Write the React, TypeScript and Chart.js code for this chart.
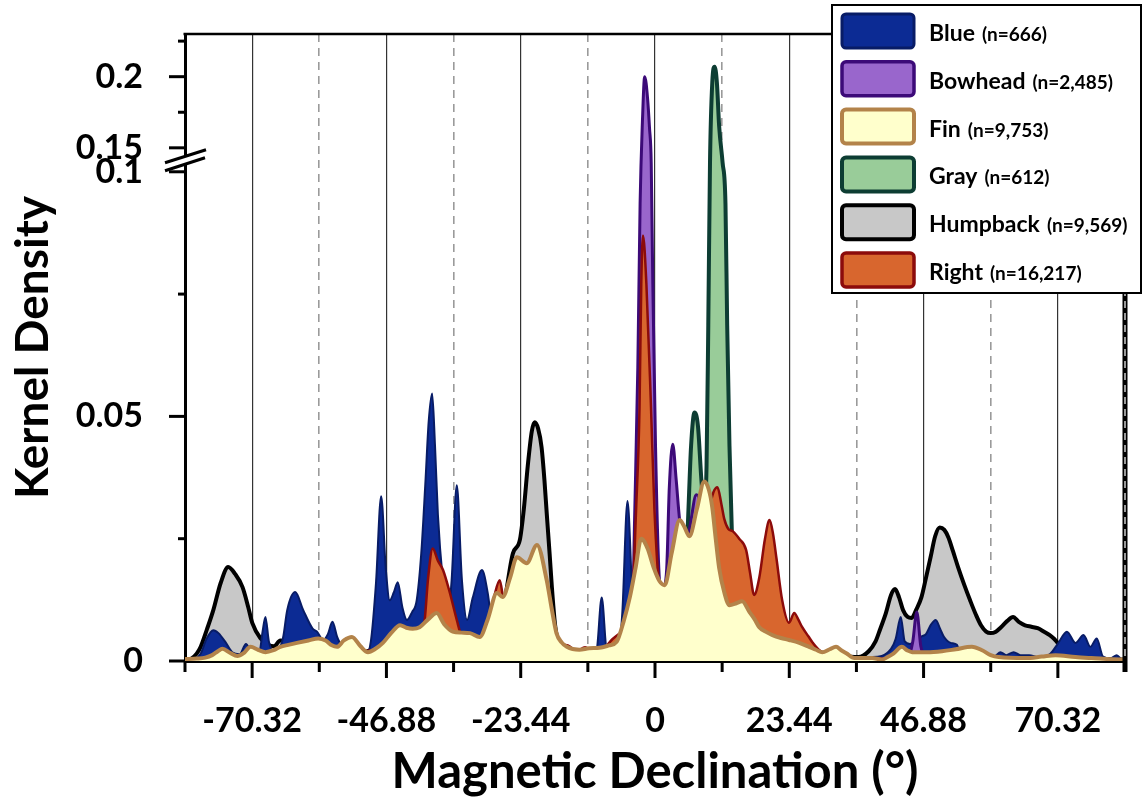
import React, { useEffect, useRef } from 'react';
import { Chart, registerables, LinearScale } from 'chart.js';

Chart.register(...registerables);

// ---------------- data ----------------
const SERIES_NAMES = ['Blue', 'Bowhead', 'Fin', 'Gray', 'Humpback', 'Right'];
const SERIES_COUNTS = ['n=666', 'n=2,485', 'n=9,753', 'n=612', 'n=9,569', 'n=16,217'];

const X_MIN = -82.04;
const X_MAX = 82.04;
const X_TICKS = [-82.04, -70.32, -58.6, -46.88, -35.16, -23.44, -11.72, 0, 11.72, 23.44, 35.16, 46.88, 58.6, 70.32, 82.04];
const X_TICK_LABELS = ['', '-70.32', '', '-46.88', '', '-23.44', '', '0', '', '23.44', '', '46.88', '', '70.32', ''];

const Y_MAX = 0.23;
const Y_BREAK_LOW = 0.1;
const Y_BREAK_HIGH = 0.15;
const Y_TICKS = [0, 0.025, 0.05, 0.075, 0.1, 0.15, 0.175, 0.2, 0.225];
const Y_TICK_LABELS = ['0', '', '0.05', '', '0.1', '0.15', '', '0.2', ''];

const BLUE_DENSITY: [number, number][] = [
  [-82.04, 0], [-80.5, 0.0003], [-79.3, 0.0015], [-78.3, 0.0045], [-77.1, 0.0063], [-76.2, 0.0057], [-75.0, 0.0039],
  [-73.8, 0.0018], [-72.5, 0.0014], [-71.4, 0.0035], [-70.3, 0.0018], [-69.0, 0.0022], [-68.5, 0.006], [-68.0, 0.009],
  [-67.4, 0.004], [-66.6, 0.002], [-65.6, 0.0025], [-64.9, 0.0049], [-64.2, 0.0104], [-62.8, 0.0141], [-61.4, 0.0104],
  [-59.8, 0.0067], [-59.0, 0.006], [-57.9, 0.0043], [-57.1, 0.0055], [-56.3, 0.008], [-55.5, 0.005], [-55.0, 0.0037],
  [-54.0, 0.002], [-52.0, 0.0013], [-50.5, 0.0012], [-49.6, 0.004], [-48.7, 0.016], [-47.8, 0.0337], [-47.0, 0.019],
  [-46.3, 0.0124], [-45.6, 0.014], [-44.9, 0.0161], [-44.1, 0.011], [-43.3, 0.0084], [-42.4, 0.01], [-41.6, 0.0124],
  [-40.8, 0.022], [-40.1, 0.036], [-39.5, 0.049], [-38.9, 0.0547], [-38.4, 0.044], [-37.9, 0.03], [-37.0, 0.016],
  [-36.2, 0.009], [-35.5, 0.0165], [-34.6, 0.0359], [-33.7, 0.0165], [-32.8, 0.0084], [-31.8, 0.013], [-30.2, 0.0186],
  [-29.2, 0.0139], [-28.3, 0.006], [-27.0, 0.002], [-22.0, 0.001], [-15.0, 0.001], [-11.0, 0.001], [-10.2, 0.002],
  [-9.3, 0.013], [-8.4, 0.002], [-7.0, 0.0015], [-6.3, 0.0025], [-5.7, 0.01], [-4.8, 0.0327], [-3.9, 0.012],
  [-3.2, 0.004], [-2.0, 0.002], [5.0, 0.001], [20.0, 0.001], [38.0, 0.0008], [41.2, 0.0025], [42.0, 0.0045],
  [42.9, 0.009], [43.6, 0.004], [44.5, 0.0035], [45.5, 0.004], [46.5, 0.005], [47.3, 0.0055], [48.2, 0.0075],
  [49.0, 0.0084], [49.8, 0.0065], [50.4, 0.005], [51.6, 0.0037], [52.7, 0.0033], [53.4, 0.001], [56.0, 0.0008],
  [59.3, 0.001], [60.3, 0.0018], [61.3, 0.0012], [62.6, 0.0018], [63.8, 0.0012], [65.3, 0.0012], [67.0, 0.0008],
  [69.0, 0.0015], [70.3, 0.0035], [71.9, 0.006], [73.4, 0.0037], [74.8, 0.0053], [76.0, 0.0029], [77.1, 0.0046],
  [78.2, 0.0009], [79.5, 0.0005], [80.6, 0.0012], [81.4, 0.0003], [82.04, 0],
];

const BOWHEAD_DENSITY: [number, number][] = [
  [-82.04, 0], [-20.0, 0], [-6.0, 0.0003], [-4.5, 0.002], [-3.9, 0.01], [-3.6, 0.027], [-3.0, 0.06], [-2.6, 0.0935],
  [-2.2, 0.168], [-1.8, 0.2], [-1.3, 0.185], [-0.96, 0.164], [-0.66, 0.119], [-0.38, 0.077], [0.09, 0.044],
  [0.66, 0.019], [1.2, 0.014], [1.6, 0.015], [2.05, 0.019], [2.5, 0.0355], [3.1, 0.0443], [3.7, 0.037], [4.3, 0.0288],
  [5.0, 0.024], [6.0, 0.027], [7.2, 0.034], [8.0, 0.031], [9.0, 0.012], [10.0, 0.004], [12.0, 0.001], [40.0, 0.0005],
  [44.3, 0.001], [45.0, 0.004], [45.7, 0.01], [46.4, 0.003], [47.2, 0.001], [60.0, 0.0003], [82.04, 0],
];

const FIN_DENSITY: [number, number][] = [
  [-82.04, 0.0004], [-80.0, 0.0005], [-78.5, 0.0007], [-77.3, 0.0012], [-76.3, 0.002], [-75.5, 0.0025], [-74.2, 0.0017],
  [-72.9, 0.001], [-71.8, 0.0016], [-70.6, 0.0029], [-69.3, 0.0023], [-68.0, 0.0018], [-66.6, 0.0022], [-65.4, 0.0029],
  [-64.0, 0.0033], [-62.5, 0.0037], [-60.5, 0.0042], [-58.8, 0.0046], [-57.5, 0.0042], [-56.4, 0.0032], [-55.5, 0.0029],
  [-54.3, 0.0042], [-52.9, 0.0049], [-51.4, 0.003], [-50.1, 0.0018], [-48.8, 0.0025], [-47.5, 0.0037], [-46.0, 0.0058],
  [-44.5, 0.0073], [-43.4, 0.0068], [-42.3, 0.0066], [-41.1, 0.0069], [-39.6, 0.0085], [-38.1, 0.0098], [-36.8, 0.0075],
  [-35.3, 0.006], [-33.8, 0.0058], [-32.3, 0.0057], [-30.6, 0.0049], [-29.2, 0.0085], [-27.6, 0.0139], [-26.6, 0.0131],
  [-25.3, 0.017], [-24.1, 0.0212], [-22.4, 0.02], [-20.6, 0.0237], [-18.9, 0.0165], [-18.0, 0.0105], [-17.2, 0.0057],
  [-16.3, 0.0038], [-15.4, 0.0029], [-13.2, 0.0023], [-11.5, 0.0026], [-9.7, 0.0027], [-8.0, 0.0032], [-6.7, 0.0039],
  [-5.5, 0.008], [-4.4, 0.013], [-3.4, 0.019], [-2.4, 0.025], [-1.3, 0.023], [-0.2, 0.019], [0.8, 0.0163], [1.7, 0.0155],
  [2.9, 0.022], [4.3, 0.0288], [5.1, 0.0275], [6.0, 0.0255], [7.3, 0.031], [8.6, 0.0367], [9.4, 0.035], [10.0, 0.0314],
  [10.6, 0.025], [11.2, 0.019], [12.1, 0.014], [13.0, 0.0114], [14.2, 0.0118], [15.2, 0.0122], [16.5, 0.01],
  [17.4, 0.0085], [18.2, 0.0069], [19.3, 0.006], [20.5, 0.0053], [22.0, 0.0047], [23.4, 0.0043], [25.2, 0.0037],
  [26.9, 0.0029], [28.1, 0.0023], [29.2, 0.0018], [30.5, 0.0024], [31.6, 0.0029], [32.5, 0.0022], [33.4, 0.0016],
  [34.8, 0.0006], [37.9, 0.0006], [39.6, 0.0003], [40.6, 0.0008], [41.6, 0.0015], [43.1, 0.0029], [44.0, 0.0022],
  [44.9, 0.0018], [47.5, 0.0018], [50.1, 0.002], [52.5, 0.0024], [55.3, 0.0029], [57.1, 0.0022], [58.6, 0.0012],
  [60.0, 0.0008], [64.7, 0.0006], [67.5, 0.0009], [69.9, 0.0012], [73.4, 0.0008], [76.2, 0.0006], [81.4, 0.0003],
  [82.04, 0.0003],
];

const GRAY_DENSITY: [number, number][] = [
  [-82.04, 0], [0.0, 0], [2.5, 0.0005], [4.0, 0.003], [5.0, 0.012], [5.7, 0.027], [6.3, 0.044], [6.9, 0.0508],
  [7.5, 0.048], [8.1, 0.037], [8.6, 0.031], [9.0, 0.04], [9.3, 0.0686], [9.6, 0.119], [10.0, 0.196], [10.4, 0.207],
  [10.8, 0.196], [11.2, 0.165], [11.8, 0.119], [12.3, 0.0935], [12.6, 0.0686], [13.0, 0.044], [13.4, 0.027],
  [13.8, 0.015], [14.6, 0.005], [16.0, 0.001], [20.0, 0], [82.04, 0],
];

const HUMPBACK_DENSITY: [number, number][] = [
  [-82.04, 0], [-81.0, 0.0004], [-80.0, 0.0015], [-79.3, 0.0029], [-78.2, 0.0065], [-77.1, 0.0104], [-75.8, 0.016],
  [-74.5, 0.0192], [-73.3, 0.0178], [-72.0, 0.0151], [-71.0, 0.011], [-70.3, 0.0078], [-68.9, 0.0047], [-67.5, 0.0033],
  [-66.5, 0.003], [-65.4, 0.0042], [-64.3, 0.004], [-62.0, 0.0032], [-58.0, 0.003], [-55.0, 0.0022], [-52.0, 0.0015],
  [-46.0, 0.004], [-40.0, 0.005], [-34.0, 0.004], [-29.0, 0.006], [-26.5, 0.011], [-24.8, 0.022], [-23.6, 0.0247],
  [-22.9, 0.031], [-22.2, 0.04], [-21.5, 0.047], [-21.0, 0.0488], [-20.4, 0.0475], [-19.8, 0.0437], [-19.3, 0.037],
  [-18.9, 0.0302], [-18.4, 0.022], [-18.0, 0.0151], [-17.4, 0.007], [-16.5, 0.003], [-14.0, 0.0015], [-8.0, 0.0015],
  [-4.0, 0.006], [-1.5, 0.012], [1.0, 0.01], [4.0, 0.014], [8.0, 0.02], [10.5, 0.016], [13.0, 0.008], [17.0, 0.004],
  [24.0, 0.002], [31.0, 0.0012], [35.5, 0.0008], [37.3, 0.002], [38.5, 0.004], [39.3, 0.0065], [40.3, 0.0098],
  [41.2, 0.0135], [41.9, 0.0147], [42.6, 0.013], [43.3, 0.0104], [44.1, 0.009], [44.8, 0.0088], [45.6, 0.0105],
  [46.5, 0.013], [47.3, 0.017], [48.1, 0.0212], [48.9, 0.0255], [49.7, 0.0273], [50.5, 0.0268], [51.2, 0.0253],
  [52.0, 0.0225], [52.9, 0.0192], [54.0, 0.0155], [55.0, 0.0124], [56.0, 0.0095], [56.9, 0.0073], [57.8, 0.006],
  [58.6, 0.0057], [59.5, 0.006], [60.4, 0.0069], [61.5, 0.0082], [62.5, 0.009], [63.5, 0.008], [64.6, 0.0073],
  [65.7, 0.007], [66.8, 0.0067], [67.9, 0.006], [68.9, 0.0053], [69.7, 0.0045], [70.3, 0.0037], [71.4, 0.0025],
  [72.6, 0.0016], [74.5, 0.0008], [77.0, 0.0005], [82.04, 0.0003],
];

const RIGHT_DENSITY: [number, number][] = [
  [-82.04, 0], [-75.0, 0.0005], [-65.0, 0.001], [-55.0, 0.0015], [-48.0, 0.0025], [-44.0, 0.004], [-41.5, 0.005],
  [-40.6, 0.006], [-40.2, 0.0084], [-39.6, 0.017], [-38.8, 0.023], [-37.9, 0.0205], [-37.0, 0.0186], [-35.8, 0.0139],
  [-34.6, 0.0084], [-33.7, 0.005], [-31.0, 0.004], [-29.0, 0.008], [-28.0, 0.0135], [-27.1, 0.0165], [-26.3, 0.012],
  [-24.0, 0.016], [-21.0, 0.018], [-18.8, 0.013], [-17.5, 0.006], [-16.3, 0.0035], [-15.2, 0.0032], [-13.7, 0.002],
  [-12.2, 0.0028], [-11.0, 0.002], [-9.0, 0.0025], [-7.4, 0.0045], [-5.5, 0.006], [-4.2, 0.008], [-3.3, 0.031],
  [-2.7, 0.052], [-2.4, 0.077], [-2.1, 0.087], [-1.5, 0.077], [-0.7, 0.052], [-0.1, 0.031], [0.8, 0.015], [2.0, 0.012],
  [4.0, 0.018], [6.0, 0.02], [8.0, 0.026], [9.4, 0.031], [10.2, 0.0345], [10.9, 0.0355], [11.6, 0.032], [12.1, 0.029],
  [12.8, 0.027], [13.6, 0.0265], [14.7, 0.025], [15.9, 0.0227], [16.6, 0.018], [17.3, 0.0135], [18.2, 0.017],
  [19.2, 0.025], [20.0, 0.0288], [20.6, 0.026], [21.2, 0.021], [22.2, 0.0124], [23.4, 0.0078], [24.3, 0.0098],
  [25.0, 0.0085], [25.7, 0.0069], [26.8, 0.005], [27.5, 0.0038], [28.7, 0.0022], [31.0, 0.0012], [36.0, 0.0005],
  [50.0, 0.0004], [82.04, 0],
];

const SERIES_DATA = [BLUE_DENSITY, BOWHEAD_DENSITY, FIN_DENSITY, GRAY_DENSITY, HUMPBACK_DENSITY, RIGHT_DENSITY];

// ---------------- styles ----------------
const SERIES_STYLE = [
  { fill: '#0c2b94', border: '#081c66', width: 2, legendWidth: 3, order: 3 },
  { fill: '#9966cc', border: '#3c0a78', width: 3, legendWidth: 3.5, order: 2 },
  { fill: '#ffffcc', border: '#b3834a', width: 4, legendWidth: 4, order: 0 },
  { fill: '#99cc99', border: '#0d3d33', width: 4, legendWidth: 4, order: 4 },
  { fill: '#c8c8c8', border: '#000000', width: 4, legendWidth: 4, order: 5 },
  { fill: '#d8662e', border: '#8c0b0b', width: 2.5, legendWidth: 3.5, order: 1 },
];

const FONT = 'Lato';
// axis proportions (pixels of the lower segment, the break, the upper segment)
const SEG_LOWER = 490;
const SEG_GAP = 24;
const SEG_UPPER = 114;

class BrokenLinearScale extends LinearScale {
  static id = 'brokenLinear';
  static defaults = {};

  _frac(v: number) {
    const total = SEG_LOWER + SEG_GAP + SEG_UPPER;
    const lo = this.min;
    const hi = this.max;
    if (v <= Y_BREAK_LOW) return (((v - lo) / (Y_BREAK_LOW - lo)) * SEG_LOWER) / total;
    if (v <= Y_BREAK_HIGH)
      return (SEG_LOWER + ((v - Y_BREAK_LOW) / (Y_BREAK_HIGH - Y_BREAK_LOW)) * SEG_GAP) / total;
    return (SEG_LOWER + SEG_GAP + ((v - Y_BREAK_HIGH) / (hi - Y_BREAK_HIGH)) * SEG_UPPER) / total;
  }

  getPixelForValue(value: any) {
    if (value === null || value === undefined || isNaN(value)) return NaN;
    return this.getPixelForDecimal(this._frac(value));
  }

  getValueForPixel(pixel: number) {
    const total = SEG_LOWER + SEG_GAP + SEG_UPPER;
    const d = this.getDecimalForPixel(pixel);
    const a = SEG_LOWER / total;
    const b = (SEG_LOWER + SEG_GAP) / total;
    if (d <= a) return this.min + (d / a) * (Y_BREAK_LOW - this.min);
    if (d <= b) return Y_BREAK_LOW + ((d - a) / (b - a)) * (Y_BREAK_HIGH - Y_BREAK_LOW);
    return Y_BREAK_HIGH + ((d - b) / (1 - b)) * (this.max - Y_BREAK_HIGH);
  }
}
Chart.register(BrokenLinearScale as any);

const decorPlugin = {
  id: 'decor',
  afterDraw(chart: any) {
    const { ctx, chartArea: a, scales } = chart;
    const xs = scales.x;
    const ys = scales.y;
    ctx.save();
    // top frame
    ctx.strokeStyle = '#000';
    ctx.lineWidth = 2.5;
    ctx.beginPath();
    ctx.moveTo(a.left - 1.5, a.top);
    ctx.lineTo(a.right, a.top);
    ctx.stroke();
    // right frame
    ctx.lineWidth = 5;
    ctx.beginPath();
    ctx.moveTo(a.right, a.top - 1);
    ctx.lineTo(a.right, a.bottom + 11);
    ctx.stroke();
    ctx.strokeStyle = '#ffffff';
    ctx.lineWidth = 1.2;
    ctx.setLineDash([7, 5]);
    ctx.beginPath();
    ctx.moveTo(a.right, a.top + 3);
    ctx.lineTo(a.right, a.bottom - 2);
    ctx.stroke();
    ctx.setLineDash([]);
    // x tick marks
    ctx.strokeStyle = '#000';
    ctx.lineWidth = 3;
    X_TICKS.forEach((v, i) => {
      const px = xs.getPixelForValue(v);
      const len = X_TICK_LABELS[i] ? 17 : 11;
      ctx.beginPath();
      ctx.moveTo(px, a.bottom);
      ctx.lineTo(px, a.bottom + len);
      ctx.stroke();
    });
    // y tick marks
    Y_TICKS.forEach((v, i) => {
      const py = ys.getPixelForValue(v);
      const len = Y_TICK_LABELS[i] ? 16 : 7;
      ctx.beginPath();
      ctx.moveTo(a.left - len, py);
      ctx.lineTo(a.left, py);
      ctx.stroke();
    });
    // axis break
    const ym = (ys.getPixelForValue(Y_BREAK_LOW) + ys.getPixelForValue(Y_BREAK_HIGH)) / 2;
    const x0 = a.left;
    ctx.fillStyle = '#ffffff';
    ctx.beginPath();
    ctx.moveTo(x0 - 20, ym + 3);
    ctx.lineTo(x0 + 21, ym - 10);
    ctx.lineTo(x0 + 20, ym - 2);
    ctx.lineTo(x0 - 20, ym + 11);
    ctx.closePath();
    ctx.fill();
    ctx.strokeStyle = '#000';
    ctx.lineWidth = 3;
    ctx.beginPath();
    ctx.moveTo(x0 - 20, ym + 3);
    ctx.lineTo(x0 + 21, ym - 10);
    ctx.moveTo(x0 - 20, ym + 11);
    ctx.lineTo(x0 + 20, ym - 2);
    ctx.stroke();

    // legend
    const LX = 832;
    const LY = 5;
    const LW = 309;
    const LH = 288;
    ctx.fillStyle = '#ffffff';
    ctx.fillRect(LX, LY, LW, LH);
    ctx.strokeStyle = '#000';
    ctx.lineWidth = 2;
    ctx.strokeRect(LX, LY, LW, LH);
    SERIES_NAMES.forEach((name, i) => {
      const st = SERIES_STYLE[i];
      const sy = 13 + i * 47.8;
      ctx.beginPath();
      if (ctx.roundRect) ctx.roundRect(842, sy + 1, 72, 34, 4);
      else ctx.rect(842, sy + 1, 72, 34);
      ctx.fillStyle = st.fill;
      ctx.fill();
      ctx.lineWidth = st.legendWidth;
      ctx.strokeStyle = st.border;
      ctx.stroke();
      ctx.fillStyle = '#000';
      ctx.textAlign = 'left';
      ctx.textBaseline = 'alphabetic';
      ctx.font = `bold 23px ${FONT}`;
      ctx.fillText(name, 929, sy + 28);
      const w = ctx.measureText(name).width;
      ctx.font = `bold 19px ${FONT}`;
      ctx.fillText(`(${SERIES_COUNTS[i]})`, 929 + w + 7, sy + 28);
    });
    ctx.restore();
  },
};

export default function App() {
  const ref = useRef<HTMLCanvasElement>(null);
  useEffect(() => {
    if (!ref.current) return;
    const isMajorX = (i: number) => !!X_TICK_LABELS[i];
    const isEdgeX = (i: number) => i === 0 || i === X_TICKS.length - 1;
    const chart = new Chart(ref.current, {
      type: 'line',
      data: {
        datasets: SERIES_NAMES.map((name, i) => ({
          label: name,
          data: SERIES_DATA[i].map(([x, y]) => ({ x, y })),
          fill: 'origin',
          backgroundColor: SERIES_STYLE[i].fill,
          borderColor: SERIES_STYLE[i].border,
          borderWidth: SERIES_STYLE[i].width,
          pointRadius: 0,
          cubicInterpolationMode: 'monotone',
          order: SERIES_STYLE[i].order,
        })),
      },
      options: {
        responsive: false,
        animation: false,
        devicePixelRatio: 1,
        layout: { padding: { top: 34, right: 19, bottom: 0, left: 0 } },
        plugins: { legend: { display: false }, tooltip: { enabled: false } },
        scales: {
          x: {
            type: 'linear',
            min: X_MIN,
            max: X_MAX,
            bounds: 'data',
            afterBuildTicks: (s: any) => {
              s.ticks = X_TICKS.map((v) => ({ value: v }));
            },
            afterFit: (s: any) => {
              s.height = 140;
            },
            ticks: {
              autoSkip: false,
              maxRotation: 0,
              minRotation: 0,
              padding: 0,
              color: '#000',
              font: { family: FONT, size: 34, weight: 'bold' },
              callback: (_v: any, i: number) => X_TICK_LABELS[i],
            },
            grid: {
              drawTicks: true,
              tickLength: 40,
              tickColor: 'rgba(0,0,0,0)',
              color: (c: any) =>
                c.index === undefined || isEdgeX(c.index) ? 'rgba(0,0,0,0)' : isMajorX(c.index) ? '#333333' : '#9a9a9a',
              lineWidth: (c: any) => (c.index !== undefined && isMajorX(c.index) ? 1.2 : 1.6),
            },
            border: {
              display: true,
              color: '#000',
              width: 3,
              dash: (c: any) => (c.index !== undefined && !isMajorX(c.index) ? [8, 6] : []),
            },
            title: {
              display: true,
              text: 'Magnetic Declination (°)',
              color: '#000',
              font: { family: FONT, size: 49, weight: 'bold', lineHeight: 1 },
              padding: { top: 0, bottom: 4 },
            },
          },
          y: {
            type: 'brokenLinear' as any,
            min: 0,
            max: Y_MAX,
            bounds: 'data',
            afterBuildTicks: (s: any) => {
              s.ticks = Y_TICKS.map((v) => ({ value: v }));
            },
            afterFit: (s: any) => {
              s.width = 185;
            },
            ticks: {
              padding: 0,
              color: '#000',
              font: { family: FONT, size: 34, weight: 'bold' },
              callback: (_v: any, i: number) => Y_TICK_LABELS[i],
            },
            grid: {
              display: true,
              drawOnChartArea: false,
              drawTicks: true,
              tickLength: 42,
              tickColor: 'rgba(0,0,0,0)',
              color: 'rgba(0,0,0,0)',
            },
            border: { display: true, color: '#000', width: 3 },
            title: {
              display: true,
              text: 'Kernel Density',
              color: '#000',
              font: { family: FONT, size: 46, weight: 'bold', lineHeight: 1 },
              padding: { top: 10, bottom: 0 },
            },
          },
        },
      } as any,
      plugins: [decorPlugin],
    } as any);
    return () => chart.destroy();
  }, []);
  return (
    <div style={{ position: 'fixed', left: 0, top: 0, width: 1144, height: 801, background: '#fff' }}>
      <canvas ref={ref} width={1144} height={801} style={{ display: 'block' }} />
    </div>
  );
}
